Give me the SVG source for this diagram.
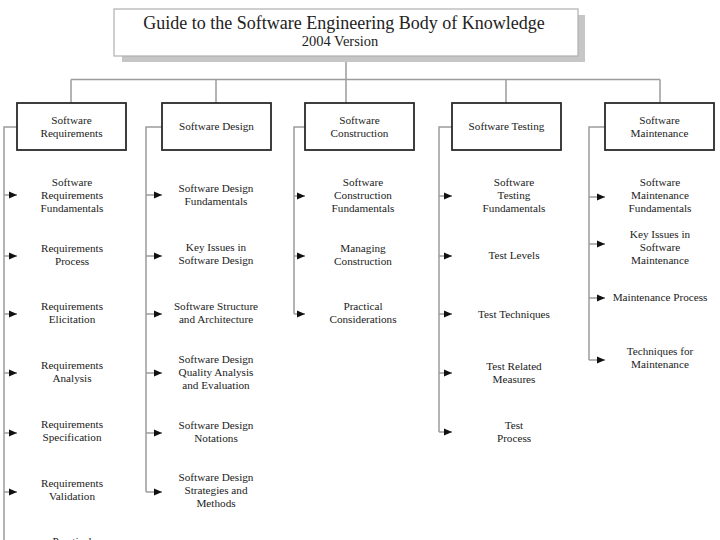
<svg xmlns="http://www.w3.org/2000/svg" width="720" height="540" viewBox="0 0 720 540">
<style>
text{font-family:"Liberation Serif","Times New Roman",serif;fill:#222;text-anchor:middle;font-size:11.2px}
.title{font-size:18px}
.ver{font-size:14.5px}
.box{fill:#fff;stroke:#2a2a2a;stroke-width:1.8}
.tbox{fill:#fff;stroke:#b0b0b0;stroke-width:1.2}
.shadow{fill:#c6c6c6}
.c{fill:none;stroke:#9c9c9c;stroke-width:1.5}
.a{fill:none;stroke:#9c9c9c;stroke-width:1.5;marker-end:url(#ah)}
</style>
<defs>
<marker id="ah" markerUnits="userSpaceOnUse" markerWidth="9" markerHeight="8" refX="8" refY="4" orient="auto">
<path d="M0,0.5 L8,4 L0,7.5 Z" fill="#111"/>
</marker>
</defs>
<rect width="720" height="540" fill="#fff"/>

<g id="connectors">
<path class="c" d="M346,56 V79.5 M71,79.5 H660 M71,79.5 V103 M216,79.5 V103 M346,79.5 V103 M506,79.5 V103 M660,79.5 V103"/>
<path class="c" d="M17,127 H4 V540"/>
<path class="a" d="M4,195 H17"/>
<path class="a" d="M4,256 H17"/>
<path class="a" d="M4,314 H17"/>
<path class="a" d="M4,373 H17"/>
<path class="a" d="M4,433 H17"/>
<path class="a" d="M4,492 H17"/>
<path class="c" d="M162,127 H146 V492"/>
<path class="a" d="M146,195 H162"/>
<path class="a" d="M146,256 H162"/>
<path class="a" d="M146,314 H162"/>
<path class="a" d="M146,373 H162"/>
<path class="a" d="M146,433 H162"/>
<path class="a" d="M146,492 H162"/>
<path class="c" d="M305,127 H294 V314"/>
<path class="a" d="M294,196 H305"/>
<path class="a" d="M294,256 H305"/>
<path class="a" d="M294,314 H305"/>
<path class="c" d="M452,127 H439 V432"/>
<path class="a" d="M439,196 H452"/>
<path class="a" d="M439,256 H452"/>
<path class="a" d="M439,314 H452"/>
<path class="a" d="M439,373 H452"/>
<path class="a" d="M439,432 H452"/>
<path class="c" d="M605,127 H589 V360"/>
<path class="a" d="M589,197 H605"/>
<path class="a" d="M589,244 H605"/>
<path class="a" d="M589,298 H605"/>
<path class="a" d="M589,360 H605"/>
</g>

<g id="root">
<rect class="shadow" x="122" y="15" width="463" height="47"/>
<rect class="tbox" x="114" y="9" width="464" height="47"/>
<text class="title" x="344" y="29">Guide to the Software Engineering Body of Knowledge</text>
<text class="ver" x="340" y="46">2004 Version</text>
</g>

<g id="software-requirements">
<rect class="box" x="17" y="103" width="109" height="47"/>
<text x="71.5" y="124">Software<tspan x="71.5" dy="13">Requirements</tspan></text>
</g>
<g id="software-design">
<rect class="box" x="162" y="103" width="109" height="47"/>
<text x="216.5" y="130">Software Design</text>
</g>
<g id="software-construction">
<rect class="box" x="305" y="103" width="109" height="47"/>
<text x="359.5" y="124">Software<tspan x="359.5" dy="13">Construction</tspan></text>
</g>
<g id="software-testing">
<rect class="box" x="452" y="103" width="109" height="47"/>
<text x="506.5" y="130">Software Testing</text>
</g>
<g id="software-maintenance">
<rect class="box" x="605" y="103" width="109" height="47"/>
<text x="659.5" y="124">Software<tspan x="659.5" dy="13">Maintenance</tspan></text>
</g>

<g id="req-fundamentals"><text x="72" y="186">Software<tspan x="72" dy="13">Requirements</tspan><tspan x="72" dy="13">Fundamentals</tspan></text></g>
<g id="req-process"><text x="72" y="252">Requirements<tspan x="72" dy="13">Process</tspan></text></g>
<g id="req-elicitation"><text x="72" y="310">Requirements<tspan x="72" dy="13">Elicitation</tspan></text></g>
<g id="req-analysis"><text x="72" y="369">Requirements<tspan x="72" dy="13">Analysis</tspan></text></g>
<g id="req-specification"><text x="72" y="428">Requirements<tspan x="72" dy="13">Specification</tspan></text></g>
<g id="req-validation"><text x="72" y="487">Requirements<tspan x="72" dy="13">Validation</tspan></text></g>
<g id="req-practical"><text x="72" y="545">Practical</text></g>

<g id="des-fundamentals"><text x="216" y="192">Software Design<tspan x="216" dy="13">Fundamentals</tspan></text></g>
<g id="des-key-issues"><text x="216" y="251">Key Issues in<tspan x="216" dy="13">Software Design</tspan></text></g>
<g id="des-structure"><text x="216" y="310">Software Structure<tspan x="216" dy="13">and Architecture</tspan></text></g>
<g id="des-quality"><text x="216" y="363">Software Design<tspan x="216" dy="13">Quality Analysis</tspan><tspan x="216" dy="13">and Evaluation</tspan></text></g>
<g id="des-notations"><text x="216" y="429">Software Design<tspan x="216" dy="13">Notations</tspan></text></g>
<g id="des-strategies"><text x="216" y="481">Software Design<tspan x="216" dy="13">Strategies and</tspan><tspan x="216" dy="13">Methods</tspan></text></g>

<g id="con-fundamentals"><text x="363" y="186">Software<tspan x="363" dy="13">Construction</tspan><tspan x="363" dy="13">Fundamentals</tspan></text></g>
<g id="con-managing"><text x="363" y="252">Managing<tspan x="363" dy="13">Construction</tspan></text></g>
<g id="con-practical"><text x="363" y="310">Practical<tspan x="363" dy="13">Considerations</tspan></text></g>

<g id="test-fundamentals"><text x="514" y="186">Software<tspan x="514" dy="13">Testing</tspan><tspan x="514" dy="13">Fundamentals</tspan></text></g>
<g id="test-levels"><text x="514" y="259">Test Levels</text></g>
<g id="test-techniques"><text x="514" y="318">Test Techniques</text></g>
<g id="test-measures"><text x="514" y="370">Test Related<tspan x="514" dy="13">Measures</tspan></text></g>
<g id="test-process"><text x="514" y="429">Test<tspan x="514" dy="13">Process</tspan></text></g>

<g id="maint-fundamentals"><text x="660" y="186">Software<tspan x="660" dy="13">Maintenance</tspan><tspan x="660" dy="13">Fundamentals</tspan></text></g>
<g id="maint-key-issues"><text x="660" y="238">Key Issues in<tspan x="660" dy="13">Software</tspan><tspan x="660" dy="13">Maintenance</tspan></text></g>
<g id="maint-process"><text x="660" y="301">Maintenance Process</text></g>
<g id="maint-techniques"><text x="660" y="355">Techniques for<tspan x="660" dy="13">Maintenance</tspan></text></g>
</svg>
